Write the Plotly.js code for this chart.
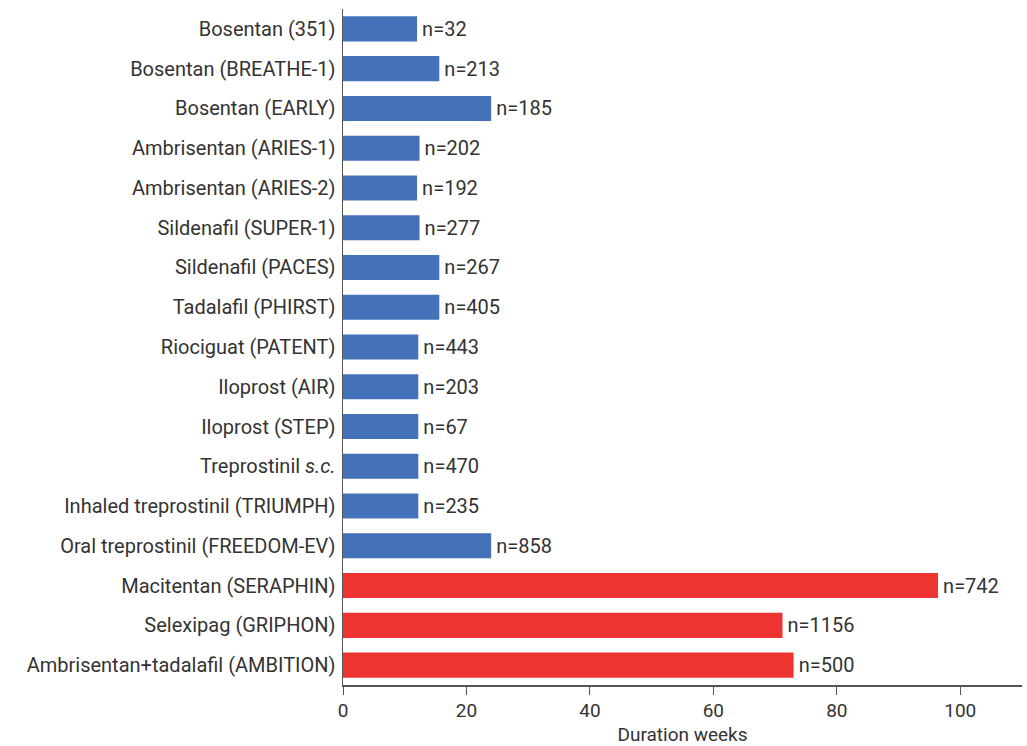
<!DOCTYPE html>
<html>
<head>
<meta charset="utf-8">
<script src="https://cdn.plot.ly/plotly-3.0.1.min.js"></script>
<style>html,body{margin:0;padding:0;background:#fff;}#chart{width:1027px;height:746px;}</style>
</head>
<body>
<div id="chart"></div>
<script>
const categories = [
  "Bosentan (351)",
  "Bosentan (BREATHE-1)",
  "Bosentan (EARLY)",
  "Ambrisentan (ARIES-1)",
  "Ambrisentan (ARIES-2)",
  "Sildenafil (SUPER-1)",
  "Sildenafil (PACES)",
  "Tadalafil (PHIRST)",
  "Riociguat (PATENT)",
  "Iloprost (AIR)",
  "Iloprost (STEP)",
  "Treprostinil <i>s.c.</i>",
  "Inhaled treprostinil (TRIUMPH)",
  "Oral treprostinil (FREEDOM-EV)",
  "Macitentan (SERAPHIN)",
  "Selexipag (GRIPHON)",
  "Ambrisentan+tadalafil (AMBITION)"
];
const durationWeeks = [12, 15.6, 24, 12.4, 12, 12.4, 15.6, 15.6, 12.2, 12.2, 12.2, 12.2, 12.2, 24, 96.4, 71.2, 73];
const patients = [32, 213, 185, 202, 192, 277, 267, 405, 443, 203, 67, 470, 235, 858, 742, 1156, 500];
const eventDriven = [false,false,false,false,false,false,false,false,false,false,false,false,false,false,true,true,true];

const colors = eventDriven.map(e => e ? "#EE3430" : "#4472B8");
const labels = patients.map(n => "\u200A" + "n=" + n);

const trace = {
  type: "bar",
  orientation: "h",
  y: categories,
  x: durationWeeks,
  marker: {color: colors},
  text: labels,
  textposition: "outside",
  textfont: {family: "Roboto, sans-serif", size: 20, color: "#333"},
  cliponaxis: false,
  hoverinfo: "none"
};

const layout = {
  width: 1027,
  height: 746,
  margin: {l: 343, r: 5, t: 9, b: 61},
  paper_bgcolor: "#fff",
  plot_bgcolor: "#fff",
  bargap: 0.37,
  showlegend: false,
  font: {family: "Roboto, sans-serif", size: 20, color: "#333"},
  xaxis: {
    range: [0, 110],
    tickvals: [0, 20, 40, 60, 80, 100],
    showgrid: false,
    zeroline: false,
    showline: true,
    linecolor: "#555",
    linewidth: 1.5,
    ticks: "outside",
    ticklen: 8,
    tickcolor: "#555",
    tickfont: {size: 19, color: "#333"},
    title: {text: "Duration weeks", font: {size: 19, color: "#333"}, standoff: 6}
  },
  yaxis: {
    autorange: "reversed",
    showgrid: false,
    zeroline: false,
    showline: true,
    linecolor: "#555",
    linewidth: 1.5,
    ticks: "",
    tickfont: {size: 20, color: "#333"},
    ticklabelstandoff: 2
  }
};

Plotly.newPlot("chart", [trace], layout, {displayModeBar: false, staticPlot: true});
</script>
</body>
</html>
